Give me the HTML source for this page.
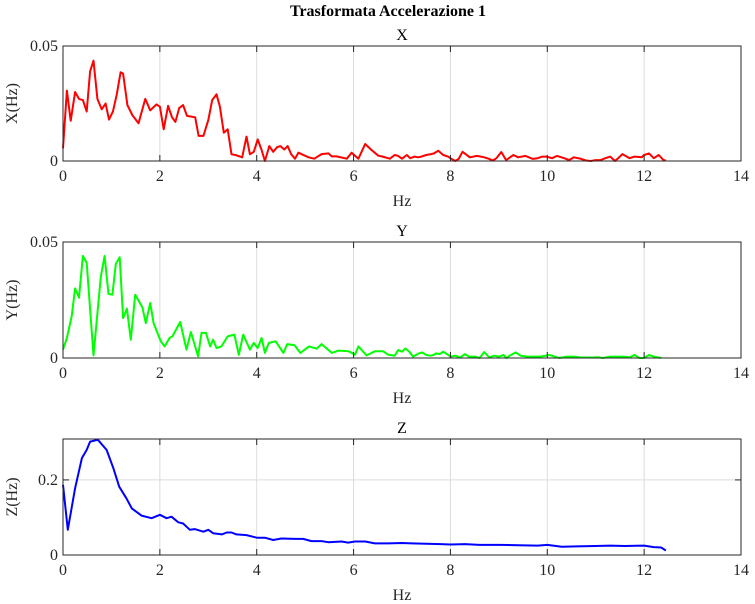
<!DOCTYPE html>
<html><head><meta charset="utf-8"><style>
body{margin:0;background:#fff}
svg{display:block;font-family:"Liberation Serif",serif}
</style></head><body>
<svg id="fig" width="755" height="604" viewBox="0 0 755 604">
<text x="388" y="16" text-anchor="middle" font-size="16" font-weight="bold" fill="#000">Trasformata Accelerazione 1</text>
</svg>
<script>
const xTicks=[0,2,4,6,8,10,12,14];
const xFreq=[0,0.08,0.16,0.25,0.33,0.41,0.49,0.56,0.63,0.71,0.8,0.88,0.95,1.03,1.11,1.19,1.24,1.33,1.43,1.56,1.7,1.8,1.93,2.0,2.08,2.17,2.25,2.32,2.4,2.48,2.56,2.73,2.8,2.9,3.0,3.08,3.17,3.24,3.32,3.4,3.48,3.56,3.7,3.79,3.86,3.94,4.02,4.1,4.17,4.26,4.34,4.42,4.49,4.57,4.64,4.71,4.79,4.86,5.07,5.19,5.34,5.48,5.55,5.65,5.86,5.96,6.1,6.24,6.37,6.51,6.58,6.75,6.85,6.92,7.0,7.1,7.17,7.26,7.33,7.4,7.5,7.6,7.66,7.75,7.85,7.95,8.0,8.1,8.17,8.25,8.4,8.55,8.7,8.8,8.88,8.95,9.05,9.15,9.3,9.4,9.55,9.7,9.8,9.9,9.98,10.1,10.2,10.35,10.45,10.55,10.7,10.8,10.9,11.0,11.1,11.2,11.3,11.4,11.5,11.55,11.7,11.8,11.95,12.0,12.1,12.2,12.3,12.4,12.45];
const xVals=[0.0055,0.0306,0.0175,0.030,0.027,0.0265,0.0215,0.039,0.0436,0.027,0.0225,0.025,0.018,0.0215,0.029,0.0386,0.038,0.0243,0.020,0.0164,0.027,0.022,0.0246,0.0236,0.0138,0.024,0.019,0.017,0.023,0.0243,0.0196,0.019,0.0109,0.0109,0.0178,0.0265,0.029,0.0236,0.0123,0.0138,0.0029,0.0026,0.0016,0.0106,0.0029,0.004,0.0094,0.0048,0,0.0065,0.004,0.006,0.0065,0.005,0.0065,0.003,0.001,0.0036,0.0016,0.001,0.003,0.0033,0.002,0.002,0.001,0.0036,0.001,0.0074,0.0048,0.0023,0.002,0.001,0.0026,0.0022,0.001,0.0026,0.0012,0.0019,0.0016,0.0019,0.0026,0.003,0.0033,0.0045,0.0026,0.0019,0.0012,0,0.0009,0.004,0.0016,0.0022,0.0016,0.0009,0.0002,0.0012,0.0039,0.0004,0.0026,0.0016,0.0022,0.0009,0.0012,0.0019,0.0019,0.0012,0.0022,0.0012,0.0004,0.0016,0.0009,0.0002,0,0.0004,0.0004,0.0012,0.0019,0,0.0019,0.003,0.0012,0.0019,0.0016,0.0026,0.0033,0.0012,0.0026,0.0004,0.0002,0.0004];
const yFreq=[0,0.08,0.18,0.25,0.33,0.41,0.49,0.63,0.78,0.86,0.94,1.02,1.09,1.17,1.24,1.32,1.4,1.49,1.64,1.71,1.8,1.87,2.02,2.1,2.2,2.26,2.42,2.55,2.64,2.79,2.86,2.95,3.04,3.1,3.17,3.27,3.4,3.54,3.63,3.72,3.86,3.94,4.02,4.1,4.17,4.25,4.39,4.55,4.63,4.78,4.9,5.08,5.24,5.34,5.55,5.69,5.9,6.03,6.1,6.27,6.44,6.61,6.72,6.85,6.92,7.0,7.07,7.15,7.23,7.35,7.42,7.5,7.58,7.65,7.7,7.78,7.85,7.93,8.0,8.1,8.2,8.3,8.38,8.5,8.6,8.7,8.8,8.9,9.0,9.1,9.15,9.25,9.35,9.45,9.6,9.75,9.85,10.05,10.15,10.25,10.4,10.55,10.7,10.8,10.95,11.05,11.15,11.3,11.4,11.55,11.7,11.8,11.9,12.0,12.1,12.2,12.35];
const yVals=[0.0036,0.0086,0.018,0.030,0.026,0.044,0.041,0.0011,0.035,0.044,0.0276,0.0273,0.0405,0.0434,0.0172,0.0213,0.0079,0.0273,0.0218,0.015,0.0237,0.015,0.0072,0.005,0.0086,0.0093,0.0155,0.0036,0.0112,0.0007,0.0108,0.0108,0.005,0.0079,0.0043,0.005,0.0093,0.0101,0.0014,0.0101,0.0036,0.0065,0.0043,0.0086,0.0022,0.0065,0.0072,0.0022,0.006,0.0055,0.0022,0.005,0.004,0.006,0.0022,0.0032,0.0029,0.0014,0.005,0.0011,0.0029,0.0029,0.0014,0.001,0.0034,0.0027,0.0041,0.0027,0.0006,0.002,0.0024,0.0013,0.001,0.0013,0.002,0.0017,0.0027,0.0017,0.0006,0.001,0.0002,0.0017,0.0006,0.0006,0,0.0026,0.0002,0.001,0.0006,0.0013,0,0.0013,0.0024,0.001,0.0006,0.0006,0.0006,0.0013,0.0006,0,0.0006,0.0006,0.0002,0.0002,0.0002,0.0003,0,0.0006,0.0006,0.0006,0.0003,0.0013,0,0,0.0013,0.0006,0];
const zFreq=[0,0.1,0.25,0.39,0.49,0.56,0.72,0.9,1.04,1.16,1.31,1.42,1.62,1.83,2.0,2.14,2.24,2.38,2.48,2.62,2.72,2.9,3.0,3.1,3.28,3.38,3.48,3.58,3.79,4.0,4.17,4.34,4.51,4.79,4.96,5.13,5.34,5.48,5.75,5.89,6.03,6.24,6.44,6.72,7.0,7.2,7.5,7.8,8.0,8.3,8.6,9.0,9.4,9.8,10.0,10.3,10.6,11.0,11.3,11.6,12.0,12.2,12.35,12.45];
const zVals=[0.187,0.067,0.178,0.258,0.28,0.302,0.307,0.28,0.231,0.182,0.151,0.124,0.105,0.098,0.107,0.098,0.102,0.087,0.084,0.067,0.069,0.062,0.067,0.058,0.055,0.06,0.06,0.055,0.053,0.046,0.046,0.04,0.044,0.043,0.043,0.037,0.037,0.034,0.036,0.033,0.036,0.036,0.031,0.031,0.032,0.031,0.03,0.029,0.028,0.029,0.027,0.027,0.026,0.025,0.027,0.022,0.023,0.024,0.025,0.024,0.025,0.021,0.02,0.012];
const yTicksX=[0,0.05],yTicksY=[0,0.05],yTicksZ=[0,0.2];
const NS="http://www.w3.org/2000/svg";
const svg=document.getElementById('fig');
function mk(tag,attrs,parent){const e=document.createElementNS(NS,tag);for(const k in attrs)e.setAttribute(k,attrs[k]);(parent||svg).appendChild(e);return e;}
function panel(name,top,bottom,ymax,yticks,ylabs,freq,vals,color,title,ylab){
  const L=63,R=741;
  const g=mk('g',{});
  
  
  const sx=v=>L+(v-0)/(14-0)*(R-L);
  const sy=v=>bottom-(v/ymax)*(bottom-top);
  xTicks.forEach(t=>{if(t>0&&t<14){const l=mk('line',{x1:sx(t),x2:sx(t),y1:top,y2:bottom,stroke:'#dcdcdc','stroke-width':1},g);}});
  yticks.forEach(t=>{if(t>0&&t<ymax*0.99){const l=mk('line',{x1:L,x2:R,y1:sy(t),y2:sy(t),stroke:'#dcdcdc','stroke-width':1},g);}});
  const pts=freq.map((f,i)=>sx(f).toFixed(1)+','+sy(vals[i]).toFixed(1)).join(' ');
  const pl=mk('polyline',{points:pts,fill:'none',stroke:color,'stroke-width':2,'stroke-linejoin':'round'},g);
  
  
  const box=mk('rect',{x:L,y:top,width:R-L,height:bottom-top,fill:'none',stroke:'#262626','stroke-width':1},g);
  
  
  xTicks.forEach(t=>{
    mk('line',{x1:sx(t),x2:sx(t),y1:bottom,y2:bottom-6,stroke:'#262626'},g);
    mk('line',{x1:sx(t),x2:sx(t),y1:top,y2:top+6,stroke:'#262626'},g);
    const tx=mk('text',{x:sx(t),y:bottom+20,'text-anchor':'middle','font-size':16,fill:'#262626'},g);
    tx.textContent=t;
    
    
  });
  yticks.forEach((t,i)=>{
    mk('line',{x1:L,x2:L+6,y1:sy(t),y2:sy(t),stroke:'#262626'},g);
    mk('line',{x1:R,x2:R-6,y1:sy(t),y2:sy(t),stroke:'#262626'},g);
    const tx=mk('text',{x:L-5,y:sy(t)+5,'text-anchor':'end','font-size':16,fill:'#262626'},g);
    tx.textContent=ylabs[i];
    
    
  });
  const tt=mk('text',{x:(L+R)/2,y:top-6,'text-anchor':'middle','font-size':16,fill:'#000'},g);
  tt.textContent=title;
  
  
  const xl=mk('text',{x:(L+R)/2,y:bottom+45,'text-anchor':'middle','font-size':16,fill:'#262626'},g);
  xl.textContent='Hz';
  
  
  const cy=(top+bottom)/2;
  const yl=mk('text',{x:17,y:cy,'text-anchor':'middle','font-size':16,fill:'#262626',transform:'rotate(-90 17 '+cy+')'},g);
  yl.textContent=ylab;
  
  
}
panel('x-panel',46,161,0.05,yTicksX,['0','0.05'],xFreq,xVals,'#ff0000','X','X(Hz)');
panel('y-panel',242,358,0.05,yTicksY,['0','0.05'],yFreq,yVals,'#00ff00','Y','Y(Hz)');
panel('z-panel',439,555,0.309,yTicksZ,['0','0.2'],zFreq,zVals,'#0000ff','Z','Z(Hz)');
</script>
</body></html>
